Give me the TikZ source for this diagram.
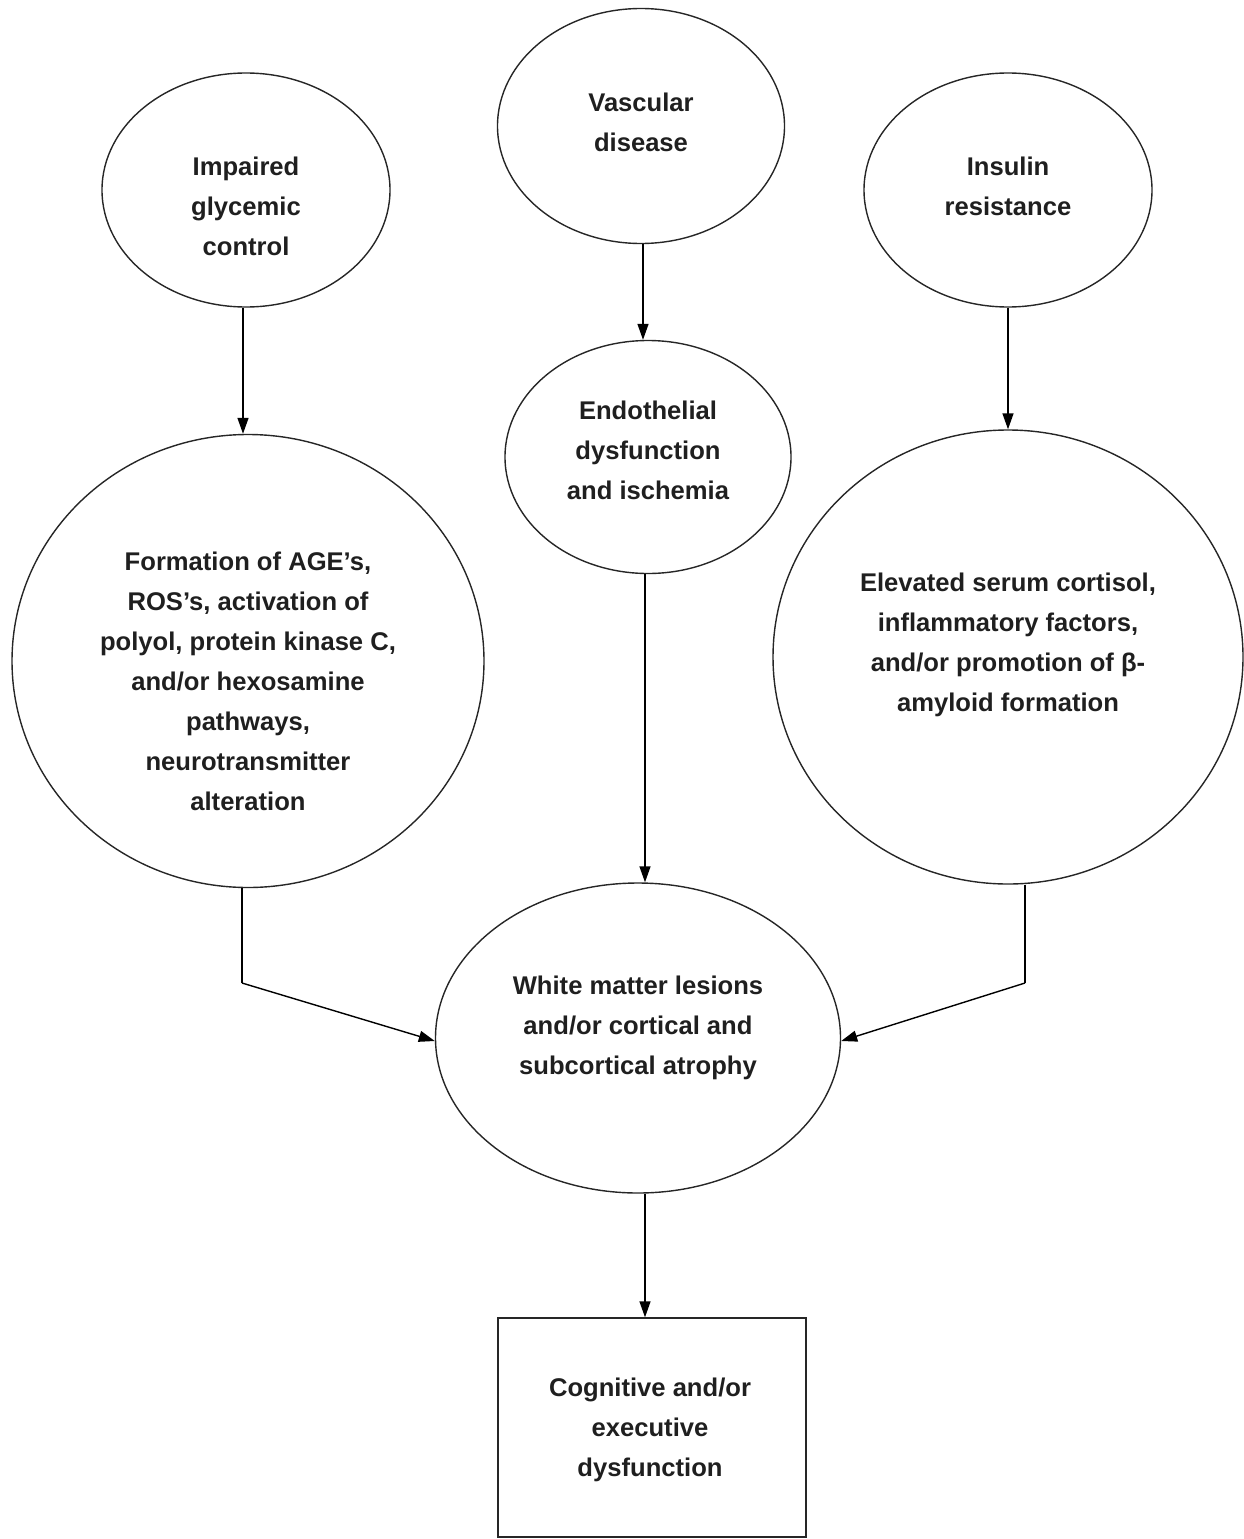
\documentclass[tikz,border=0pt]{standalone}
\usepackage{fontspec}
\setmainfont{Liberation Sans}
\usetikzlibrary{shapes.geometric,arrows.meta}
\begin{document}
\begin{tikzpicture}[x=1pt,y=-1pt,
  oval/.style={draw=black!85,line width=1.4pt,ellipse,inner sep=0pt},
  boxnode/.style={draw=black!85,line width=1.4pt,rectangle,inner sep=0pt},
  lbl/.style={align=center,text=black!88,font=\fontsize{25.6pt}{40pt}\selectfont\bfseries,inner sep=0pt},
  arr/.style={draw=black,line width=1.4pt,-{Triangle[length=16pt,width=11pt]}},
  conn/.style={draw=black,line width=1.4pt}
]
\useasboundingbox (0,0) rectangle (1243,1539);

% shapes
\node[oval,minimum width=288pt,minimum height=234pt] (imp) at (246,190) {};
\node[oval,minimum width=287pt,minimum height=235pt] (vasc) at (641,126) {};
\node[oval,minimum width=288pt,minimum height=234pt] (ins) at (1008,190) {};
\node[oval,minimum width=472pt,minimum height=453pt] (form) at (248,661) {};
\node[oval,minimum width=286pt,minimum height=233pt] (endo) at (648,457) {};
\node[oval,minimum width=470pt,minimum height=454pt] (elev) at (1008,657) {};
\node[oval,minimum width=405pt,minimum height=310pt] (wm) at (638,1038) {};
\node[boxnode,minimum width=308pt,minimum height=219pt] (cog) at (652,1427.5) {};

% texts
\node[lbl] (timp) at (246,206) {Impaired\\glycemic\\control};
\node[lbl] (tvasc) at (641,122) {Vascular\\disease};
\node[lbl] (tins) at (1008,186) {Insulin\\resistance};
\node[lbl] (tform) at (248,681) {Formation of AGE’s,\\ROS’s, activation of\\polyol, protein kinase C,\\and/or hexosamine\\pathways,\\neurotransmitter\\alteration};
\node[lbl] (tendo) at (648,450) {Endothelial\\dysfunction\\and ischemia};
\node[lbl] (telev) at (1008,645) {Elevated serum cortisol,\\inflammatory factors,\\and/or promotion of β-\\amyloid formation};
\node[lbl] (twm) at (638,1028) {White matter lesions\\and/or cortical and\\subcortical atrophy};
\node[lbl] (tcog) at (650,1430) {Cognitive and/or\\executive\\dysfunction};

% connectors
\coordinate (lbend) at (242,983);
\coordinate (rbend) at (1025,983);
\draw[arr] ([xshift=-3pt]imp.south) -- ([xshift=-3pt]imp.south |- form.north);
\draw[arr] ([xshift=2pt]vasc.south) -- ([xshift=2pt]vasc.south |- endo.north);
\draw[arr] (ins.south) -- (elev.north);
\draw[arr] ([xshift=-3pt]endo.south) -- ([xshift=-3pt]endo.south |- wm.north);
\draw[arr] ([xshift=7pt]wm.south) -- ([xshift=7pt]wm.south |- cog.north);
\draw[conn] (lbend |- form.south) -- (lbend);
\draw[arr] (lbend) -- ([yshift=-3pt]wm.west);
\draw[conn] (rbend |- elev.south) -- (rbend);
\draw[arr] (rbend) -- ([yshift=-3pt]wm.east);
\end{tikzpicture}
\end{document}
